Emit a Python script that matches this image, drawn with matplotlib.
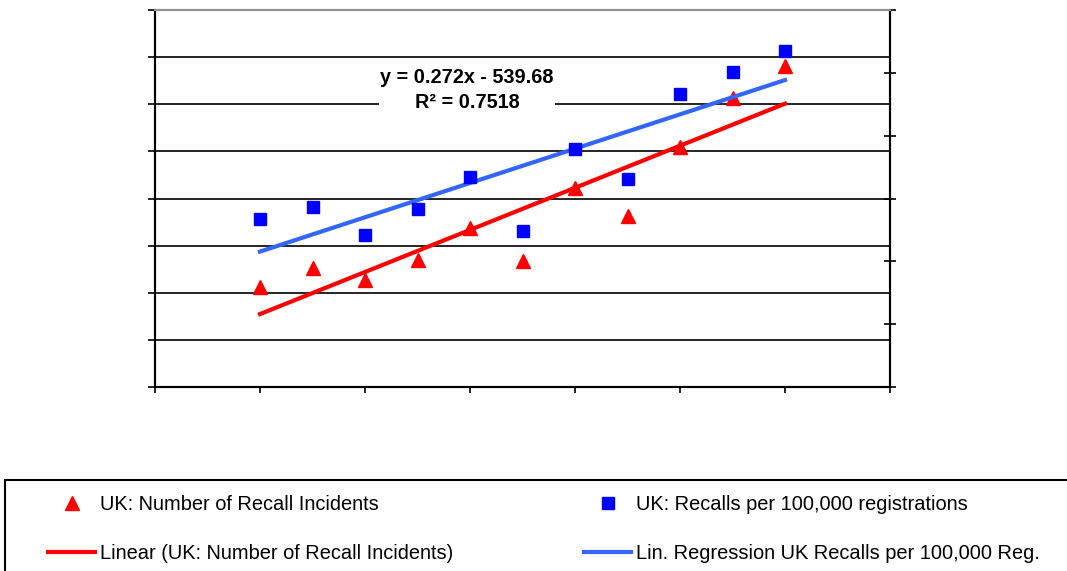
import numpy as np
import matplotlib
matplotlib.use("Agg")
import matplotlib.pyplot as plt
from matplotlib.patches import Rectangle

plt.rcParams['font.family'] = ['Liberation Sans', 'DejaVu Sans']

# data (no axis labels in the original)
years = [1996, 1997, 1998, 1999, 2000, 2001, 2002, 2003, 2004, 2005, 2006]
recall_incidents = [106, 126, 114, 135, 169, 134, 211, 181, 255, 307, 341]
recalls_per_100k = [3.68, 3.86, 3.42, 3.83, 4.34, 3.48, 4.79, 4.31, 5.66, 6.01, 6.34]

x_ticks = [1994, 1996, 1998, 2000, 2002, 2004, 2006, 2008]
left_ticks = [0, 50, 100, 150, 200, 250, 300, 350, 400]
right_ticks = [1, 2, 3, 4, 5, 6, 7]

equation_text = "y = 0.272x - 539.68\nR² = 0.7518"
label_red = "UK: Number of Recall Incidents"
label_blue = "UK: Recalls per 100,000 registrations"
label_red_fit = "Linear (UK: Number of Recall Incidents)"
label_blue_fit = "Lin. Regression UK Recalls per 100,000 Reg."

W, H = 1067, 571
fig = plt.figure(figsize=(W / 100, H / 100), dpi=100)
ax = fig.add_axes([155 / W, 1 - 387 / H, (890 - 155) / W, (387 - 10) / H])
ax2 = ax.twinx()

# linear fits
yrs = np.array(years)
red_fit = np.polyfit(yrs, recall_incidents, 1)
blue_fit = np.polyfit(yrs, recalls_per_100k, 1)
ends = np.array([years[0], years[-1]])

red_line, = ax.plot(ends, np.polyval(red_fit, ends), color='#FF0000', lw=3, zorder=3)
red_pts, = ax.plot(years, recall_incidents, ls='none', marker='^', ms=10,
                   color='#FF0000', zorder=4)
blue_line, = ax2.plot(ends, np.polyval(blue_fit, ends), color='#3366FF', lw=3, zorder=3)
blue_pts, = ax2.plot(years, recalls_per_100k, ls='none', marker='s', ms=8,
                     color='#0000FF', zorder=4)

ax.set_xlim(x_ticks[0], x_ticks[-1])
ax.set_xticks(x_ticks)
ax.set_ylim(left_ticks[0], left_ticks[-1])
ax.set_yticks(left_ticks)
ax2.set_ylim(right_ticks[0], right_ticks[-1])
ax2.set_yticks(right_ticks)

ax.set_xticklabels([])
ax.set_yticklabels([])
ax2.set_yticklabels([])

ax.grid(axis='y', color='black', lw=1.2)
ax.tick_params(axis='x', direction='out', length=4, width=1.2)
ax.tick_params(axis='y', direction='out', length=5, width=1.2)
ax2.tick_params(axis='y', direction='inout', length=9, width=1.2)

for a in (ax, ax2):
    a.spines['left'].set_linewidth(1.5)
    a.spines['right'].set_linewidth(1.5)
    a.spines['bottom'].set_linewidth(1.5)
    a.spines['top'].set_color('#909090')
    a.spines['top'].set_linewidth(1.5)

fig.text(467 / W, 1 - 90 / H, equation_text, ha='center', va='center',
         fontsize=14.3, fontweight='bold', linespacing=1.38,
         bbox=dict(facecolor='white', edgecolor='none', pad=1), zorder=10)

# legend frame running off the page like the original
fig.patches.append(Rectangle((5 / W, -0.1), 1.1, 0.1 + (1 - 480 / H),
                             transform=fig.transFigure, fill=False,
                             edgecolor='black', lw=1.5))

fig.legend([red_pts, red_line, blue_pts, blue_line],
           [label_red, label_red_fit, label_blue, label_blue_fit],
           ncol=2, loc='upper left', bbox_to_anchor=(48 / W, 1 - 495 / H),
           frameon=False, fontsize=14.4, borderpad=0, borderaxespad=0,
           handlelength=2.35, handletextpad=0.25, labelspacing=1.5,
           columnspacing=6.55, numpoints=1)

fig.savefig("out.png", dpi=100)
